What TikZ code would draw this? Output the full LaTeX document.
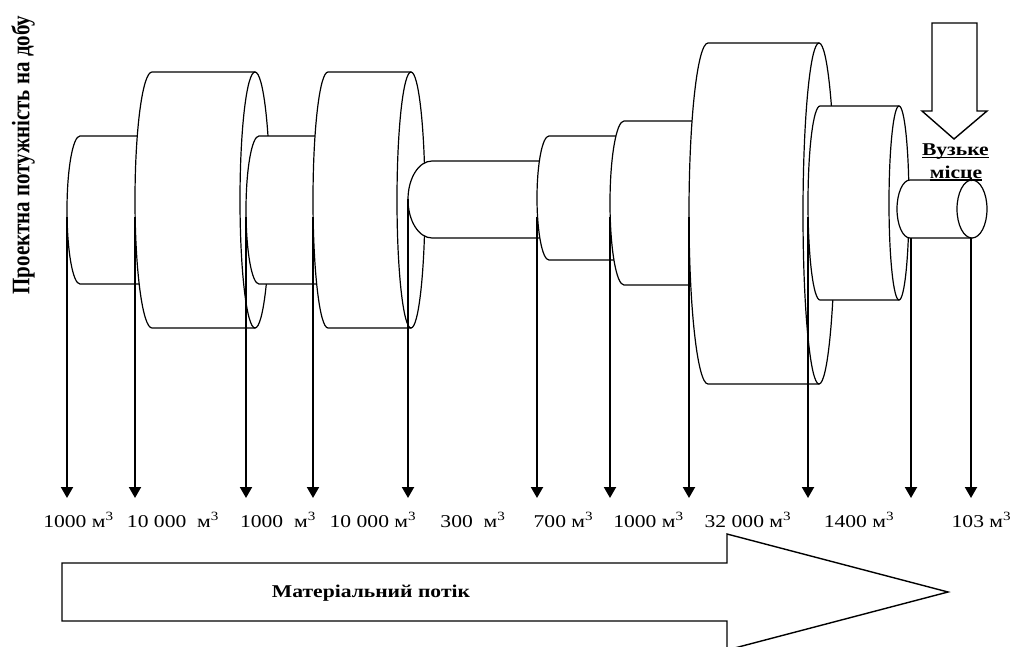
\documentclass[tikz,border=0pt]{standalone}
\usepackage{fontspec}
\setmainfont{Liberation Serif}
\usepackage{graphicx}
\usetikzlibrary{arrows.meta}
\newcommand\wide[1]{\scalebox{1.2}[1]{#1}}
\newcommand\mycyl[6]{%
  \pgfmathsetmacro\cA{#1+#5}%
  \pgfmathsetmacro\cM{(#3+#4)/2}%
  \pgfmathsetmacro\cRy{(#4-#3)/2}%
  \pgfmathsetmacro\kx{0.5523*#5}%
  \pgfmathsetmacro\ky{0.5523*\cRy}%
  \path[cyl] (\cA,#3) -- (#2,#3) -- (#2,#4) -- (\cA,#4)
    .. controls (\cA-\kx,#4) and (#1,\cM+\ky) .. (#1,\cM)
    .. controls (#1,\cM-\ky) and (\cA-\kx,#3) .. (\cA,#3) -- cycle;
  \path[cyl] (#2,\cM) ellipse[x radius=#6pt, y radius=\cRy pt];
}
\tikzset{
  cyl/.style={draw=black, fill=white, line width=1.2pt, line join=round},
  flow/.style={draw=black, line width=2pt, -{Triangle[width=12pt,length=11pt]}},
  lab/.style={anchor=base, inner sep=0pt, font=\fontsize{18}{21}\selectfont},
  boldlab/.style={anchor=base, inner sep=0pt, font=\fontsize{18}{21}\selectfont\bfseries},
  blockarrow/.style={draw=black, fill=white, line width=1.4pt, line join=miter},
  uline/.style={draw=black, line width=1.6pt},
}
\begin{document}
\begin{tikzpicture}[x=1pt,y=-1pt]
\useasboundingbox (0,0) rectangle (1013,646);
\clip (0,0) rectangle (1013,646);
\fill[white] (0,0) rectangle (1013,646);

% cylinders, left to right:  L, R, top, bottom, rx left, rx right
\mycyl{67}{165}{136}{284}{13}{13}
\mycyl{135}{255}{72}{328}{17}{15}
\mycyl{246}{340}{136}{284}{13}{13}
\mycyl{313}{411}{72}{328}{15}{14}
\mycyl{408}{560}{161}{238}{24}{12}
\mycyl{537}{635}{136}{260}{12}{12}
\mycyl{610}{715}{121}{285}{14}{14}
\mycyl{689}{819}{43}{384}{19}{16}
\mycyl{808}{899}{106}{300}{12}{10}
\mycyl{897}{972}{180}{238}{13}{15}

% vertical arrows
\foreach \i/\x/\y in {1/67/217, 2/135/217, 3/246/217, 4/313/217, 5/408/199,
                      6/537/217, 7/610/217, 8/689/217, 9/808/217, 10/911/238, 11/971/238} {
  \coordinate (s\i) at (\x,\y);
  \coordinate (e\i) at (\x,498);
  \draw[flow] (s\i) -- (e\i);
}

% volume labels
\node[lab] (l1)  at (78.5,527) {\wide{1000 м\textsuperscript{3}}};
\node[lab] (l2)  at (173,527)  {\wide{10 000\ \ м\textsuperscript{3}}};
\node[lab] (l3)  at (278,527)  {\wide{1000\ \ м\textsuperscript{3}}};
\node[lab] (l4)  at (373,527)  {\wide{10 000 м\textsuperscript{3}}};
\node[lab] (l5)  at (473,527)  {\wide{300\ \ м\textsuperscript{3}}};
\node[lab] (l6)  at (563.5,527) {\wide{700 м\textsuperscript{3}}};
\node[lab] (l7)  at (648.5,527) {\wide{1000 м\textsuperscript{3}}};
\node[lab] (l8)  at (748,527)  {\wide{32 000 м\textsuperscript{3}}};
\node[lab] (l9)  at (859,527)  {\wide{1400 м\textsuperscript{3}}};
\node[lab] (l10) at (981.5,527) {\wide{103 м\textsuperscript{3}}};

% material flow block arrow
\path[blockarrow] (62,563) -- (727,563) -- (727,534) -- (948,592) -- (727,650)
  -- (727,621) -- (62,621) -- cycle;
\node[boldlab] (flowtext) at (371,597) {\wide{Матеріальний потік}};

% bottleneck arrow
\path[blockarrow] (932,23) -- (977,23) -- (977,111) -- (987,111) -- (954,139)
  -- (922,111) -- (932,111) -- cycle;
\node[boldlab] (nb1) at (955.5,155) {\wide{Вузьке}};
\node[boldlab] (nb2) at (956,178) {\wide{місце}};
\draw[uline] ([yshift=-2.5pt]nb1.base west) -- ([yshift=-2.5pt]nb1.base east);
\draw[uline] ([yshift=-2pt]nb2.base west) -- ([yshift=-2pt]nb2.base east);

% axis title
\node[inner sep=0pt, rotate=90, font=\fontsize{21}{24}\selectfont\bfseries] (ytitle) at (23,155)
  {\scalebox{1}[1.2]{Проектна потужність на добу}};
\end{tikzpicture}
\end{document}
